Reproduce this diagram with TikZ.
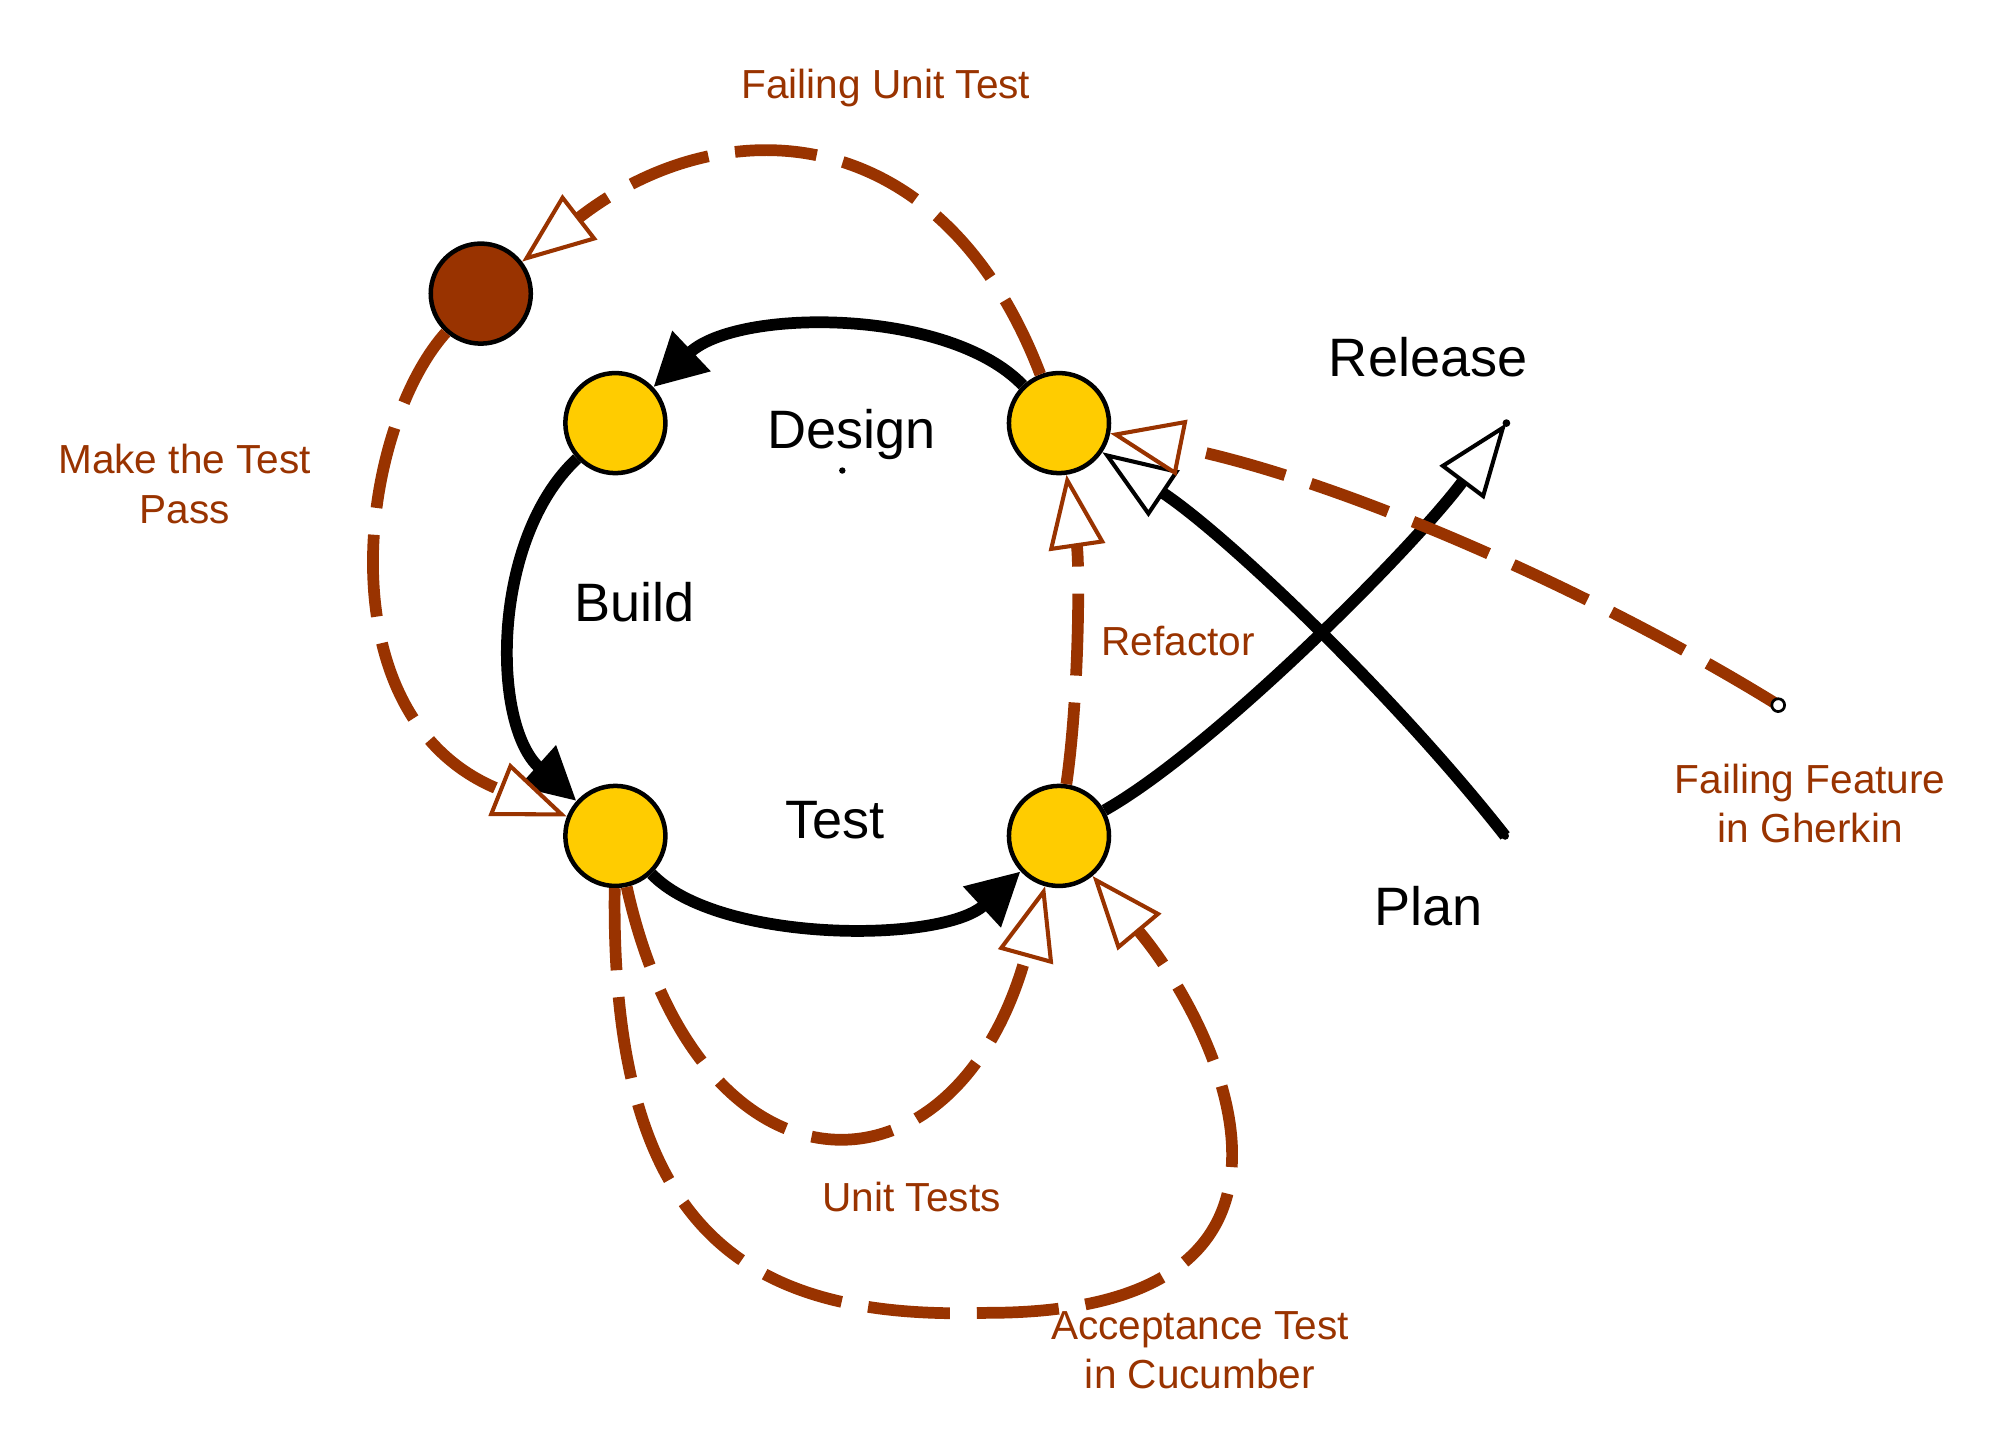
\documentclass[tikz,border=0pt]{standalone}
\usepackage{fontspec}
\setmainfont{Liberation Sans}
\usepackage{tikz}
\usetikzlibrary{arrows.meta}
\definecolor{tddbrown}{HTML}{993300}
\definecolor{tddyellow}{HTML}{FFCC00}

\begin{document}
\begin{tikzpicture}[x=0.01cm,y=-0.01cm,
    stage/.style={circle,draw,line width=1pt,fill=tddyellow,minimum size=0.78cm,inner sep=0pt},
    flow/.style={line width=2.6pt,-{Triangle[length=0.41cm,width=0.41cm]}},
    outward/.style={line width=2.6pt,-{Triangle[open,fill=white,length=0.58cm,width=0.43cm,line width=0.9pt]}},
    feedback/.style={tddbrown,line width=2.6pt,dash pattern=on 0.64cm off 0.21cm,
        -{Triangle[open,fill=white,length=0.57cm,width=0.44cm,line width=0.9pt]}},
    phase/.style={font=\fontsize{12}{14}\selectfont,inner sep=0pt,anchor=base},
    note/.style={tddbrown,font=\fontsize{9}{11}\selectfont,inner sep=0pt,align=center}]
    \useasboundingbox (0,0) rectangle (1560,1135);

    % stages of the cycle
    \node[stage] (build) at (480,330) {};
    \node[stage] (design) at (826,330) {};
    \node[stage] (test) at (480,652) {};
    \node[stage] (done) at (826,652) {};
    \node[stage,fill=tddbrown] (red) at (375,229) {};
    \coordinate (release) at (1175,330);
    \coordinate (plan) at (1174,652);
    \coordinate (gherkin) at (1387,550);

    % main cycle
    \draw[flow] (design) .. controls (740,240) and (575,240) .. (build);
    \draw[flow] (build) .. controls (383,420) and (383,565) .. (test);
    \draw[flow] (test) .. controls (560,736) and (735,736) .. (done);
    \draw[outward] (done) .. controls (945,585) and (1100,430) .. (release);
    \draw[outward] (plan) .. controls (1090,545) and (960,420) .. (design);
    \fill (release) circle (0.03cm);
    \fill (plan) circle (0.03cm);

    % test loops
    \draw[feedback] (done) .. controls (842,540) and (842,440) .. (design);
    \draw[feedback] (gherkin) .. controls (1250,465) and (1050,375) .. (design);
    \draw[feedback] (design) .. controls (735,92) and (565,82) .. (red);
    \draw[feedback] (red) .. controls (280,335) and (250,560) .. (test);
    \draw[feedback] (test) .. controls (545,945) and (745,945) .. (done);
    \draw[feedback] (test) .. controls (476,960) and (580,1030) .. (770,1024)
        .. controls (1060,1024) and (950,800) .. (done);
    \draw[line width=0.6pt,fill=white] (gherkin) circle (0.05cm);
    \fill (657,367) circle (0.025cm);

    % labels
    \node[phase] (designlbl) at (664,350) {Design};
    \node[phase] (buildlbl) at (495,485) {Build};
    \node[phase] (testlbl) at (651,654) {Test};
    \node[phase] (releaselbl) at (1114,294) {Release};
    \node[phase] (planlbl) at (1114,722) {Plan};
    \node[note,anchor=base] (failunitlbl) at (691,77) {Failing Unit Test};
    \node[note,anchor=north] (passlbl) at (144,346) {Make the Test\\Pass};
    \node[note,anchor=base] (refactorlbl) at (919,511) {Refactor};
    \node[note,anchor=north] (featurelbl) at (1412,595) {Failing Feature\\in Gherkin};
    \node[note,anchor=base] (unitlbl) at (711,945) {Unit Tests};
    \node[note,anchor=north] (acceptlbl) at (936,1022) {Acceptance Test\\in Cucumber};
\end{tikzpicture}
\end{document}
